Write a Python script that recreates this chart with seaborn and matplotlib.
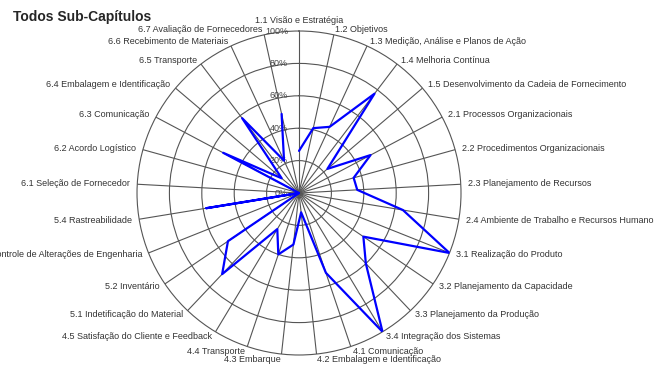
import numpy as np
import pandas as pd
import seaborn as sns
import matplotlib.pyplot as plt

categories = [
    "1.1 Visão e Estratégia", "1.2 Objetivos", "1.3 Medição, Análise e Planos de Ação",
    "1.4 Melhoria Contínua", "1.5 Desenvolvimento da Cadeia de Fornecimento",
    "2.1 Processos Organizacionais", "2.2 Procedimentos Organizacionais",
    "2.3 Planejamento de Recursos", "2.4 Ambiente de Trabalho e Recursos Humanos",
    "3.1 Realização do Produto", "3.2 Planejamento da Capacidade",
    "3.3 Planejamento da Produção", "3.4 Integração dos Sistemas",
    "4.1 Comunicação", "4.2 Embalagem e Identificação", "4.3 Embarque",
    "4.4 Transporte", "4.5 Satisfação do Cliente e Feedback",
    "5.1 Indetificação do Material", "5.2 Inventário",
    "5.3 Controle de Alterações de Engenharia", "5.4 Rastreabilidade",
    "6.1 Seleção de Fornecedor", "6.2 Acordo Logístico", "6.3 Comunicação",
    "6.4 Embalagem e Identificação", "6.5 Transporte",
    "6.6 Recebimento de Materiais", "6.7 Avaliação de Fornecedores",
]
values = [26, 41, 45, 77, 23, 50, 35, 36, 65, 100, 48, 60, 100, 52, 12,
          32, 40, 26, 69, 53, 0, 58, 0, 0, 53, 14, 58, 22, 50]
ring_ticks = [0, 20, 40, 60, 80, 100]
ring_labels = ["0%", "20%", "40%", "60%", "80%", "100%"]

sns.set_style("white")
plt.rcParams["font.family"] = ["Liberation Sans", "DejaVu Sans"]

n = len(categories)
angles = np.linspace(0, 2 * np.pi, n, endpoint=False)
df = pd.DataFrame({"theta": np.append(angles, angles[0]),
                   "value": values + values[:1]})

fig = plt.figure(figsize=(6.54, 3.74), dpi=100)
ax = fig.add_axes([0.2095, 0.0508, 0.4954, 0.8663], projection="polar")
ax.set_theta_zero_location("N")
ax.set_theta_direction(-1)

sns.lineplot(data=df, x="theta", y="value", sort=False, ax=ax,
             color="#0000ff", lw=1.6, legend=False, zorder=5)

ax.set_ylim(0, 100)
ax.set_yticks([20, 40, 60, 80])
ax.set_yticklabels([])
ax.set_xticks(angles)
ax.set_xticklabels([])
ax.set_xlabel("")
ax.set_ylabel("")
ax.grid(True, color="#555555", lw=0.8)
ax.spines["polar"].set_color("#555555")
ax.spines["polar"].set_linewidth(0.8)

# ring labels along the top spoke
for r, lab in zip(ring_ticks, ring_labels):
    ax.annotate(lab, xy=(0, r), xytext=(-11, 0), textcoords="offset pixels",
                ha="right", va="center", fontsize=6.5, color="#444444")

# category labels outside the rings
for a, lab in zip(angles, categories):
    s, c = np.sin(a), np.cos(a)
    if abs(s) < 0.01:
        ha, off = "center", (0, 6)
        va = "bottom"
    else:
        ha = "left" if s > 0 else "right"
        va = "center"
        off = (7 * s, 5 * c)
    ax.annotate(lab, xy=(a, 100), xytext=off, textcoords="offset pixels",
                ha=ha, va=va, fontsize=6.5, color="#333333",
                annotation_clip=False)

fig.text(0.02, 0.955, "Todos Sub-Capítulos", fontsize=10, fontweight="bold",
         ha="left", va="center")

fig.savefig("out.png", dpi=100)
